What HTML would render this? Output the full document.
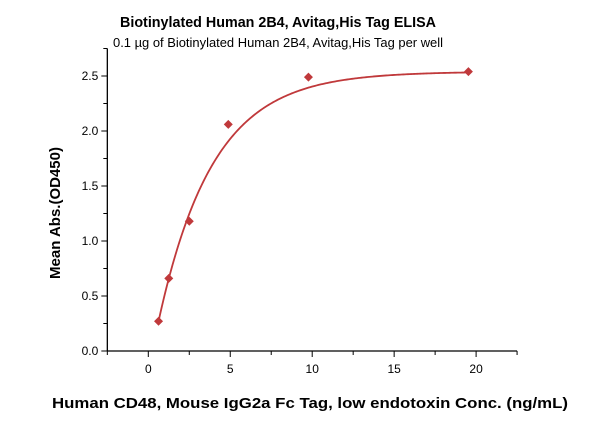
<!DOCTYPE html>
<html><head><meta charset="utf-8"><style>
body{margin:0;background:#fff;}
svg{display:block;font-family:"Liberation Sans",sans-serif;}
</style></head><body>
<svg id="chart" width="600" height="421">
<text x="278" y="27" text-anchor="middle" font-size="15" font-weight="bold" textLength="316" lengthAdjust="spacingAndGlyphs">Biotinylated Human 2B4, Avitag,His Tag ELISA</text>
<text x="278" y="47" text-anchor="middle" font-size="13" textLength="330" lengthAdjust="spacingAndGlyphs">0.1 µg of Biotinylated Human 2B4, Avitag,His Tag per well</text>
<text transform="translate(60,213) rotate(-90)" text-anchor="middle" font-size="15" font-weight="bold">Mean Abs.(OD450)</text>
<text x="310" y="408" text-anchor="middle" font-size="15" font-weight="bold" textLength="516" lengthAdjust="spacingAndGlyphs">Human CD48, Mouse IgG2a Fc Tag, low endotoxin Conc. (ng/mL)</text>
<g id="axes"></g>
<g id="plot"></g>
</svg>
<script>
const concs = [0.625, 1.25, 2.5, 4.88, 9.77, 19.53];
const absVals = [0.27, 0.66, 1.18, 2.06, 2.49, 2.54];
const xTicks = [0, 5, 10, 15, 20];
const yTicks = [0.0, 0.5, 1.0, 1.5, 2.0, 2.5];
const fitTop = 2.54, fitK = 0.30, fitX0 = 0.25;

const NS = "http://www.w3.org/2000/svg";
const X0 = 148.3, XS = 16.39, Y0 = 351, YS = 110;
const sx = v => X0 + v * XS;
const sy = v => Y0 - v * YS;
const axes = document.getElementById('axes');
const plot = document.getElementById('plot');
function mk(tag, attrs, parent) {
  const e = document.createElementNS(NS, tag);
  for (const k in attrs) e.setAttribute(k, attrs[k]);
  parent.appendChild(e);
  return e;
}
const xMin = -2.5, xMax = 22.5, yMax = 2.75;
let a = mk('line', {x1: sx(xMin), y1: sy(0), x2: sx(xMax), y2: sy(0), stroke: '#000', 'stroke-width': 1.3}, axes);


a = mk('line', {x1: sx(xMin), y1: sy(0), x2: sx(xMin), y2: sy(yMax), stroke: '#000', 'stroke-width': 1.3}, axes);


mk('line', {x1: sx(xMin)-4, y1: sy(yMax), x2: sx(xMin), y2: sy(yMax), stroke: '#000'}, axes);
for (let v = xMin; v <= xMax + 0.01; v += 2.5) {
  const major = Math.abs(v % 5) < 0.01;
  mk('line', {x1: sx(v), y1: sy(0), x2: sx(v), y2: sy(0) + (major ? 6 : 4), stroke: '#000'}, axes);
}
for (let v = 0.25; v < yMax; v += 0.25) {
  mk('line', {x1: sx(xMin) - 4, y1: sy(v), x2: sx(xMin), y2: sy(v), stroke: '#000'}, axes);
}
xTicks.forEach(v => {
  const t = mk('text', {x: sx(v), y: sy(0) + 22, 'text-anchor': 'middle', 'font-size': 12}, axes);
  t.textContent = v;
  
  
});
yTicks.forEach(v => {
  mk('line', {x1: sx(xMin) - 6, y1: sy(v), x2: sx(xMin), y2: sy(v), stroke: '#000'}, axes);
  const t = mk('text', {x: sx(xMin) - 9, y: sy(v) + 4, 'text-anchor': 'end', 'font-size': 12}, axes);
  t.textContent = v.toFixed(1);
  
  
});
let d = '';
const c0 = concs[0], c1 = concs[concs.length - 1];
for (let i = 0; i <= 200; i++) {
  const x = c0 + (c1 - c0) * i / 200;
  const y = fitTop * (1 - Math.exp(-fitK * (x - fitX0)));
  d += (i ? 'L' : 'M') + sx(x).toFixed(2) + ',' + sy(y).toFixed(2);
}
const curve = mk('path', {d: d, fill: 'none', stroke: '#c0393b', 'stroke-width': 1.8}, plot);


concs.forEach((c, i) => {
  const x = sx(c), y = sy(absVals[i]), r = 4.5;
  const p = mk('polygon', {points: `${x},${y-r} ${x+r},${y} ${x},${y+r} ${x-r},${y}`, fill: '#c0393b'}, plot);
  
  
});
</script>
</body></html>
